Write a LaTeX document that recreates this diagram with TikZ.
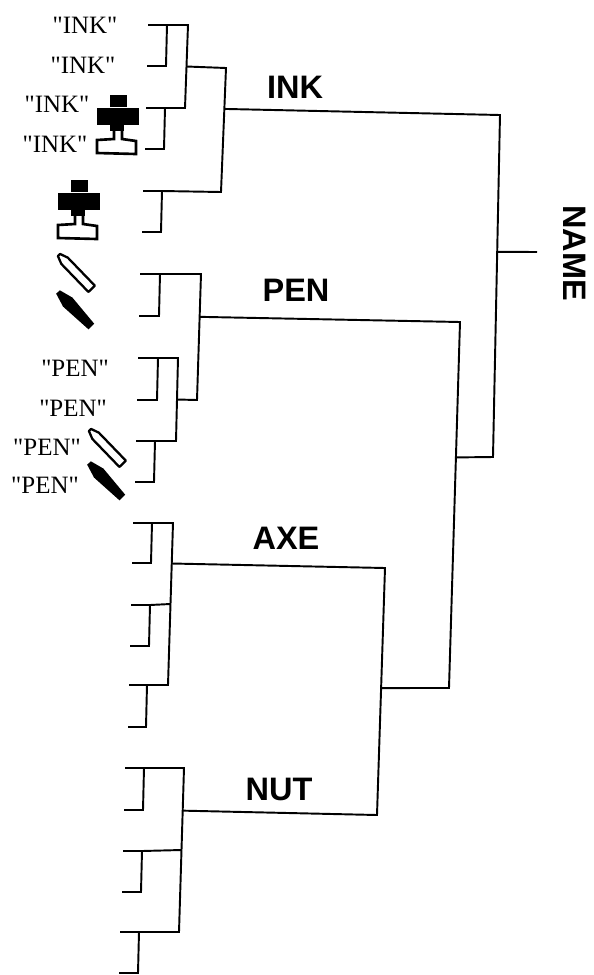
\documentclass[tikz,border=0pt]{standalone}
\usepackage{fontspec}
\setmainfont{Liberation Serif}[Ligatures=TeXOff]
\newfontfamily\headfont{Liberation Sans}
\usetikzlibrary{calc,positioning}

\tikzset{
  wire/.style={line width=1.1pt, line join=miter},
  wordlabel/.style={font=\fontsize{14.2}{16}\selectfont, inner sep=0pt},
  grouplabel/.style={font=\headfont\bfseries\fontsize{18.5}{22}\selectfont, inner sep=0pt},
  pics/stampicon/.style={code={
    \fill (-8,0) rectangle (9,12);
    \fill (-21,13) rectangle (21,30);
    \fill (-8,30) rectangle (6,36);
    \draw[line width=1.5pt] (-4,35) -- (-4,44) -- (-21,45) -- (-21,58) -- (18,59) -- (18,46) -- (4,44) -- (4,35);
  }},
  pics/penopen/.style={code={
    \draw[line width=1.3pt, line join=round, rotate=-46]
      (0,-1.5) -- (0,1.5) -- (8,4.5) -- (47,4.5) -- (47,-4.5) -- (8,-4.5) -- cycle;
  }},
  pics/pensolid/.style={code={
    \fill[rotate=-46]
      (0,-2.5) -- (0,2.5) -- (14,6.5) -- (48,4) -- (48,-4) -- (14,-6.5) -- cycle;
  }}
}

\begin{document}
\begin{tikzpicture}[x=0.02cm, y=-0.02cm]
\useasboundingbox (0,0) rectangle (593,975);

% the word labels
\node[wordlabel] (ink1) at (85,25) {"INK"};
\node[wordlabel] (ink2) at (83,65) {"INK"};
\node[wordlabel] (ink3) at (57,104) {"INK"};
\node[wordlabel] (ink4) at (55,144) {"INK"};
\node[wordlabel] (pen1) at (75,368) {"PEN"};
\node[wordlabel] (pen2) at (73,408) {"PEN"};
\node[wordlabel] (pen3) at (47,447) {"PEN"};
\node[wordlabel] (pen4) at (45,485) {"PEN"};

% the pictures
\pic (stampA) at (118,95) {stampicon};
\pic (stampB) at (79,180) {stampicon};
\pic (penA) at (59,255) {penopen};
\pic (penB) at (58,292) {pensolid};
\pic (penC) at (90,430) {penopen};
\pic (penD) at (89,463) {pensolid};

% the small brackets
\foreach \name/\xl/\yt/\xi/\yb in {ia/148/25/167/66, ib/146/108/165/149, ic/143/191/162/232,
    pa/140/274/160/316, pb/138/358/158/400, pc/136/441/155/482,
    aa/133/523/152/563, ab/131/605/150/646, ac/129/685/147/727,
    na/125/768/144/810, nb/123/851/142/892, nc/120/932/139/973} {
  \coordinate (\name-t) at (\xl,\yt);
  \coordinate (\name-j) at (\xi,\yt);
  \coordinate (\name-k) at (\xi-1,\yb);
  \coordinate (\name-b) at (\xl-1,\yb);
  \draw[wire] (\name-t) -- (\name-j) -- (\name-k) -- (\name-b);
}

% INK
\draw[wire] (ia-j) -- (188,25) -- coordinate[pos=.5] (ink-u) (185,108) -- (ib-j);
\draw[wire] (ink-u) -- (226,68) -- coordinate[pos=.33] (ink-c) (221,192) -- (ic-j);

% PEN
\draw[wire] (pb-j) -- (178,358) -- coordinate[pos=.5] (pen-u) (176,441) -- (pc-j);
\draw[wire] (pa-j) -- (201,274) -- coordinate[pos=.34] (pen-c) (197,400) -- (pen-u);

% AXE
\draw[wire] (aa-j) -- (173,523) -- coordinate[pos=.25] (axe-c) coordinate[pos=.5] (axe-u) (168,685) -- (ac-j);
\draw[wire] (ab-j) -- (axe-u);

% NUT
\draw[wire] (na-j) -- (184,768) -- coordinate[pos=.26] (nut-c) coordinate[pos=.5] (nut-u) (179,932) -- (nc-j);
\draw[wire] (nb-j) -- (nut-u);

% the long lines
\draw[wire] (axe-c) -- (385,568) -- coordinate[pos=.486] (low-c) (377,815) -- (nut-c);
\draw[wire] (pen-c) -- (460,322) -- coordinate[pos=.37] (mid-c) (449,688) -- (low-c);
\draw[wire] (ink-c) -- (500,115) -- coordinate[pos=.4] (top-c) (493,457) -- (mid-c);
\coordinate (root) at (537,252);
\draw[wire] (top-c) -- (root);

\node[grouplabel] (inkname) at (295,87) {INK};
\node[grouplabel] (penname) at (296,290) {PEN};
\node[grouplabel] (axename) at (286,538) {AXE};
\node[grouplabel] (nutname) at (279,789) {NUT};
\node[grouplabel, rotate=-90] (rootname) at (575,253) {NAME};
\end{tikzpicture}
\end{document}
